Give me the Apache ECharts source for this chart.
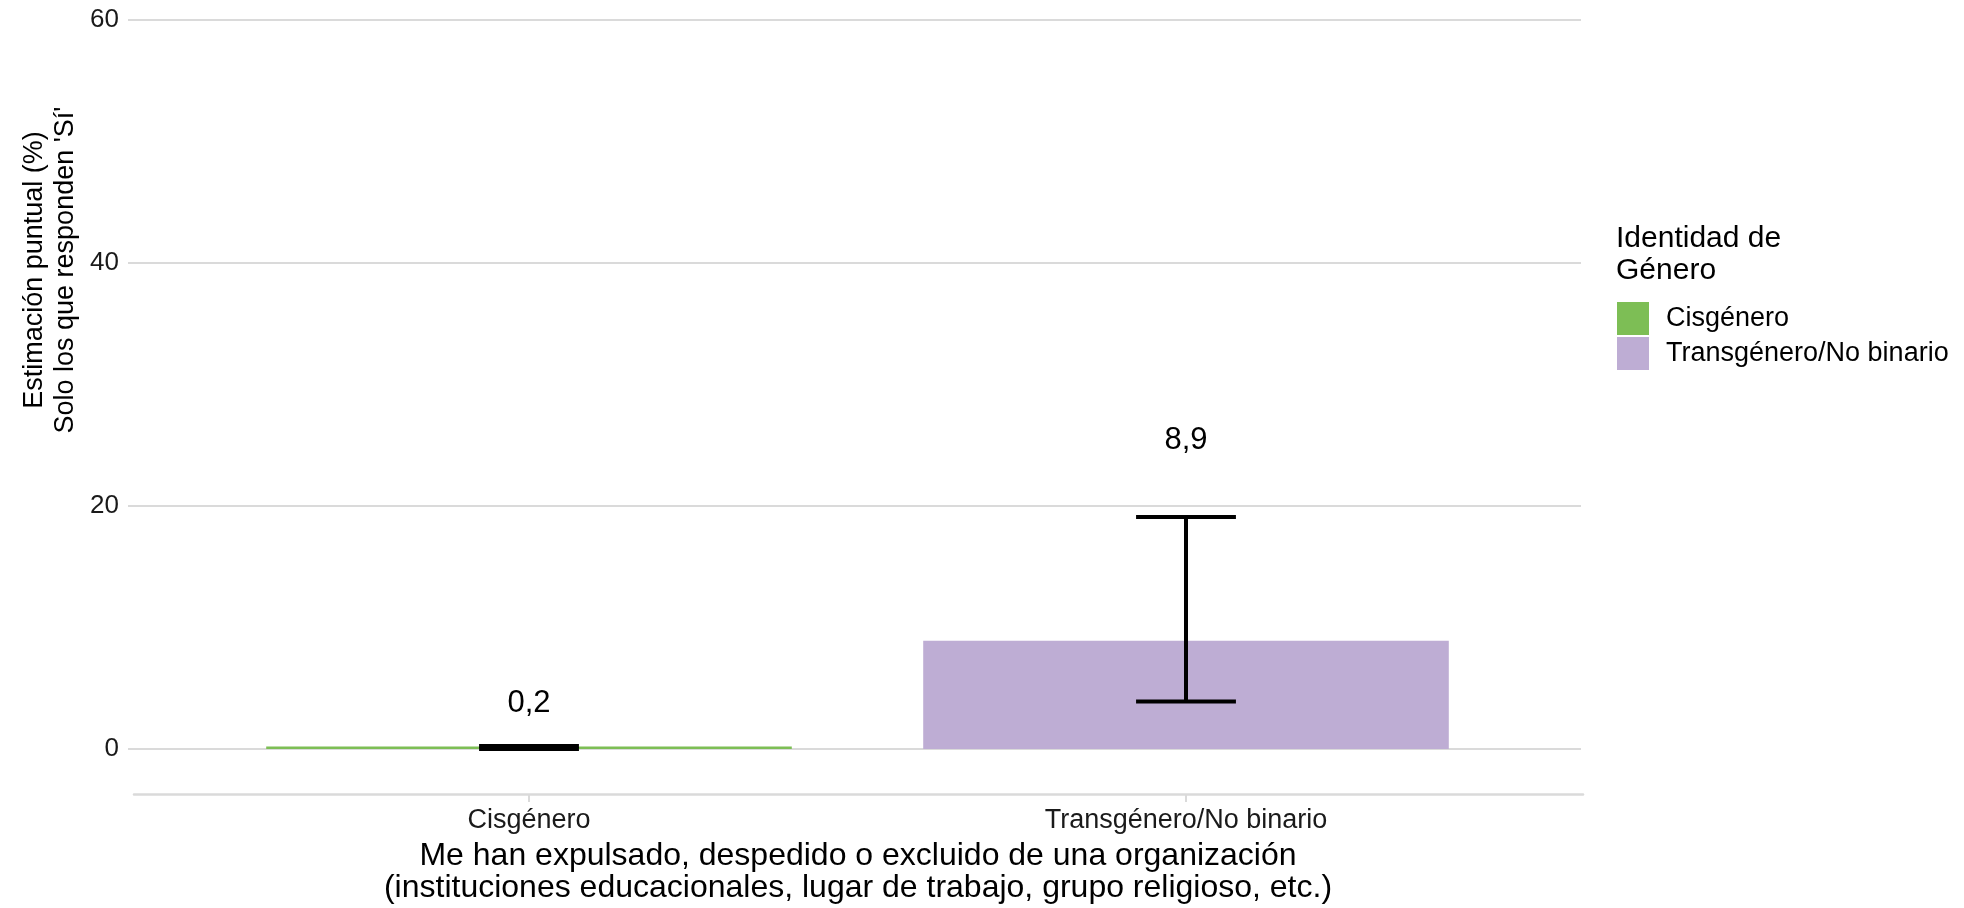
<!DOCTYPE html>
<html>
<head>
<meta charset="utf-8">
<script src="https://cdn.jsdelivr.net/npm/echarts@6/dist/echarts.min.js"></script>
<style>
html,body{margin:0;padding:0;background:#fff;}
#chart{width:1964px;height:908px;}
</style>
</head>
<body>
<div id="chart"></div>
<script>
// ---- data ----
const categories = ['Cisgénero', 'Transgénero/No binario'];
const seriesNames = ['Cisgénero', 'Transgénero/No binario'];
const estimates = [0.2, 8.9];
const lowerCI = [0.0, 3.9];
const upperCI = [0.25, 19.1];
const yTicks = [0, 20, 40, 60];
const colors = ['#7DBE55', '#BEADD4'];
const xTitle = 'Me han expulsado, despedido o excluido de una organización\n(instituciones educacionales, lugar de trabajo, grupo religioso, etc.)';
const yTitle = "Estimación puntual (%)\nSolo los que responden 'Sí'";
const legendTitle = 'Identidad de\nGénero';

const FONT = '"Liberation Sans", Arial, Helvetica, sans-serif';
const fmt = v => v.toFixed(1).replace('.', ',');

const chart = echarts.init(document.getElementById('chart'));

const barSeries = seriesNames.map((name, i) => ({
  name: name,
  type: 'bar',
  xAxisIndex: 1,
  yAxisIndex: 1,
  stack: 'g',
  barWidth: '80%',
  itemStyle: { color: colors[i] },
  data: categories.map((c, j) => (j === i ? estimates[j] : '-')),
  silent: true,
  z: 2
}));

const errData = categories.map((c, j) => [j, lowerCI[j], upperCI[j], estimates[j]]);

const yMin = yTicks[0], yMax = yTicks[yTicks.length - 1];

const option = {
  backgroundColor: '#fff',
  animation: false,
  textStyle: { fontFamily: FONT },
  title: {
    text: legendTitle,
    left: 1611,
    top: 218,
    textStyle: { fontFamily: FONT, fontSize: 30, fontWeight: 'normal', color: '#000', lineHeight: 32 }
  },
  legend: {
    data: seriesNames,
    orient: 'vertical',
    left: 1612,
    top: 297,
    itemWidth: 32,
    itemHeight: 33,
    itemGap: 2,
    icon: 'rect',
    selectedMode: false,
    textStyle: { fontFamily: FONT, fontSize: 27, color: '#000', padding: [0, 0, 0, 12] }
  },
  grid: [
    { left: 128, right: 383, top: 20, bottom: 159, containLabel: false },
    { left: 200.5, right: 449.5, top: 20, bottom: 159, containLabel: false },
    { left: 134, right: 381, top: 20, bottom: 159, containLabel: false }
  ],
  xAxis: [
    {
      gridIndex: 0, type: 'value', min: 0, max: 1, show: false
    },
    {
      gridIndex: 1, type: 'category', data: categories, offset: 45, position: 'bottom',
      axisLine: { show: false, onZero: false },
      axisTick: { show: true, alignWithLabel: true, length: 8, lineStyle: { color: '#DADADA', width: 2 } },
      axisLabel: { fontFamily: FONT, fontSize: 27, color: '#1a1a1a', margin: 13, lineHeight: 27 },
      splitLine: { show: false }
    },
    {
      gridIndex: 2, type: 'value', min: 0, max: 1, offset: 45, position: 'bottom',
      axisLine: { show: true, onZero: false, lineStyle: { color: '#DADADA', width: 2.5 } },
      axisTick: { show: false }, axisLabel: { show: false }, splitLine: { show: false }
    }
  ],
  yAxis: [
    {
      gridIndex: 0, type: 'value', min: yMin, max: yMax, interval: 20,
      axisLine: { show: false }, axisTick: { show: false },
      axisLabel: { fontFamily: FONT, fontSize: 26, color: '#1a1a1a', margin: 9 },
      splitLine: { show: true, lineStyle: { color: '#DADADA', width: 2 } }
    },
    {
      gridIndex: 1, type: 'value', min: yMin, max: yMax, interval: 20,
      show: false, splitLine: { show: false }
    },
    {
      gridIndex: 2, type: 'value', min: yMin, max: yMax, interval: 20,
      show: false, splitLine: { show: false }
    }
  ],
  graphic: [
    {
      type: 'text', x: 50, y: 270, rotation: Math.PI / 2,
      style: { text: yTitle, textAlign: 'center', textVerticalAlign: 'middle',
        font: '27px ' + FONT, fill: '#000', lineHeight: 31 }
    },
    {
      type: 'text', x: 858, y: 872,
      style: { text: xTitle, textAlign: 'center', textVerticalAlign: 'middle',
        font: '32px ' + FONT, fill: '#000', lineHeight: 32 }
    }
  ],
  series: barSeries.concat([{
    type: 'custom',
    name: 'IC',
    xAxisIndex: 1,
    yAxisIndex: 1,
    silent: true,
    z: 5,
    encode: { x: 0, y: [1, 2] },
    data: errData,
    renderItem: function (params, api) {
      const idx = api.value(0), lo = api.value(1), hi = api.value(2), est = api.value(3);
      const pLo = api.coord([idx, lo]);
      const pHi = api.coord([idx, hi]);
      const hw = api.size([1, 0])[0] * 0.076;
      const st = { stroke: '#000', lineWidth: 4, fill: null, lineCap: 'butt' };
      const pLab = api.coord([idx, hi * 1.15 + 3.6]);
      return {
        type: 'group',
        children: [
          { type: 'line', shape: { x1: pLo[0], y1: pLo[1], x2: pHi[0], y2: pHi[1] }, style: st },
          { type: 'line', shape: { x1: pHi[0] - hw, y1: pHi[1], x2: pHi[0] + hw, y2: pHi[1] }, style: st },
          { type: 'line', shape: { x1: pLo[0] - hw, y1: pLo[1], x2: pLo[0] + hw, y2: pLo[1] }, style: st },
          { type: 'text', x: pLab[0], y: pLab[1] + 2,
            style: { text: fmt(est), textAlign: 'center', textVerticalAlign: 'middle',
              font: '31px ' + FONT, fill: '#000' } }
        ]
      };
    }
  }])
};

chart.setOption(option);
</script>
</body>
</html>
